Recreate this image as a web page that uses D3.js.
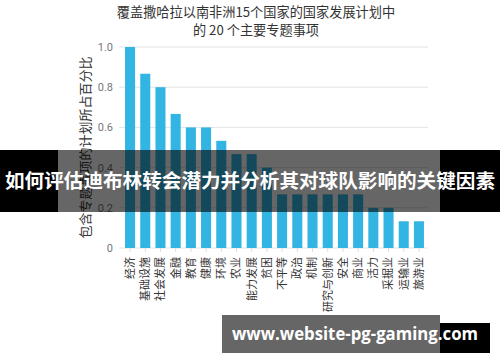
<!DOCTYPE html>
<html>
<head>
<meta charset="utf-8">
<script src="https://cdn.jsdelivr.net/npm/d3@7"></script>
<style>
  body { margin: 0; background: #fff; }
  text { font-family: "Noto Sans CJK SC", "Noto Sans", sans-serif; }
</style>
</head>
<body>
<div id="chart"></div>
<script>
// chart data
var topics = ['经济', '基础设施', '社会发展', '金融', '教育', '健康', '环境', '农业', '能力发展', '贫困',
              '不平等', '政治', '机制', '研究与创新', '安全', '商业', '活力', '采掘业', '运输业', '旅游业'];
var shares = [1.0, 0.867, 0.8, 0.667, 0.6, 0.6, 0.533, 0.467, 0.467, 0.4,
              0.267, 0.267, 0.267, 0.267, 0.267, 0.267, 0.2, 0.2, 0.133, 0.133];
var yTicks = [0, 0.2, 0.4, 0.6, 0.8, 1.0];
var titleLines = ['覆盖撒哈拉以南非洲15个国家的国家发展计划中', '的 20 个主要专题事项'];
var yTitle = '包含专题事项的计划所占百分比';
var bannerText = '如何评估迪布林转会潜力并分析其对球队影响的关键因素';
var footerText = 'www.website-pg-gaming.com';

var svgWidth = 500;
var svgHeight = 362;

var svg = d3.select('#chart').append('svg')
    .attr('width', svgWidth)
    .attr('height', svgHeight);

svg.append('rect')
    .attr('width', svgWidth)
    .attr('height', svgHeight)
    .attr('fill', '#fff');

// scales
var x = d3.scaleBand()
    .domain(topics)
    .range([122, 427])
    .paddingInner(0.34)
    .paddingOuter(0.2);

var y = d3.scaleLinear()
    .domain([0, 1])
    .range([248, 47]);

// title
svg.selectAll('.title')
    .data(titleLines)
    .enter()
    .append('text')
    .attr('x', 256)
    .attr('y', (d, i) => 17 + i * 18)
    .attr('text-anchor', 'middle')
    .attr('font-size', '13.2px')
    .attr('fill', '#333')
    .text(d => d);

// gridlines
svg.append('g')
    .selectAll('line')
    .data(yTicks)
    .enter()
    .append('line')
    .attr('x1', 119)
    .attr('x2', 428)
    .attr('y1', d => y(d))
    .attr('y2', d => y(d))
    .attr('stroke', '#e3e3e3')
    .attr('stroke-width', 1);

// y axis labels
var leftAxis = d3.axisLeft(y)
    .tickValues(yTicks)
    .tickSize(0)
    .tickPadding(6)
    .tickFormat(d => d === 0 ? '0' : d3.format('.1f')(d));

var yAxis = svg.append('g')
    .attr('transform', 'translate(119,0)')
    .call(leftAxis);
yAxis.select('.domain').remove();
yAxis.selectAll('text')
    .attr('font-size', '11px')
    .attr('fill', '#777')
    .style('font-family', 'Roboto, "Noto Sans", sans-serif');

svg.append('text')
    .attr('transform', `translate(90, ${y(0.5)}) rotate(-90)`)
    .attr('text-anchor', 'middle')
    .attr('font-size', '13px')
    .attr('fill', '#333')
    .text(yTitle);

// bars
svg.append('g')
    .selectAll('rect')
    .data(shares)
    .enter()
    .append('rect')
    .attr('x', (d, i) => x(topics[i]))
    .attr('y', d => y(d))
    .attr('width', x.bandwidth())
    .attr('height', d => y(0) - y(d))
    .attr('fill', '#33b5e3');

// x axis
var bottomAxis = d3.axisBottom(x)
    .tickSize(4)
    .tickPadding(5);

var xAxis = svg.append('g')
    .attr('transform', `translate(0, ${y(0)})`)
    .call(bottomAxis);
xAxis.select('.domain').remove();
xAxis.selectAll('line').attr('stroke', '#ddd');
xAxis.selectAll('text')
    .attr('transform', 'rotate(-90)')
    .attr('text-anchor', 'end')
    .attr('x', -9)
    .attr('y', 0)
    .attr('dy', '0.35em')
    .attr('font-size', '11px')
    .attr('fill', '#333')
    .style('font-family', '"Noto Sans CJK SC", sans-serif');

// overlay banner
svg.append('rect')
    .attr('x', 0).attr('y', 150)
    .attr('width', 58).attr('height', 62)
    .attr('fill', '#000');
svg.append('rect')
    .attr('x', 440).attr('y', 150)
    .attr('width', 60).attr('height', 62)
    .attr('fill', '#000');
svg.append('rect')
    .attr('x', 58).attr('y', 150)
    .attr('width', 382).attr('height', 62)
    .attr('fill', '#000')
    .attr('opacity', 0.6);
svg.append('text')
    .attr('x', 250)
    .attr('y', 188)
    .attr('text-anchor', 'middle')
    .attr('font-size', '18.8px')
    .attr('font-weight', 'bold')
    .attr('fill', '#fff')
    .attr('textLength', 490)
    .attr('lengthAdjust', 'spacingAndGlyphs')
    .text(bannerText);

// footer watermark
svg.append('rect')
    .attr('x', 222).attr('y', 315)
    .attr('width', 218).attr('height', 38)
    .attr('fill', '#666');
svg.append('rect')
    .attr('x', 440).attr('y', 323)
    .attr('width', 50).attr('height', 30)
    .attr('fill', '#000');
svg.append('text')
    .attr('x', 232)
    .attr('y', 340)
    .attr('font-size', '17px')
    .attr('font-weight', 'bold')
    .attr('fill', '#fff')
    .attr('textLength', 246)
    .attr('lengthAdjust', 'spacingAndGlyphs')
    .style('font-family', '"Open Sans", "DejaVu Sans", sans-serif')
    .text(footerText);
</script>
</body>
</html>
